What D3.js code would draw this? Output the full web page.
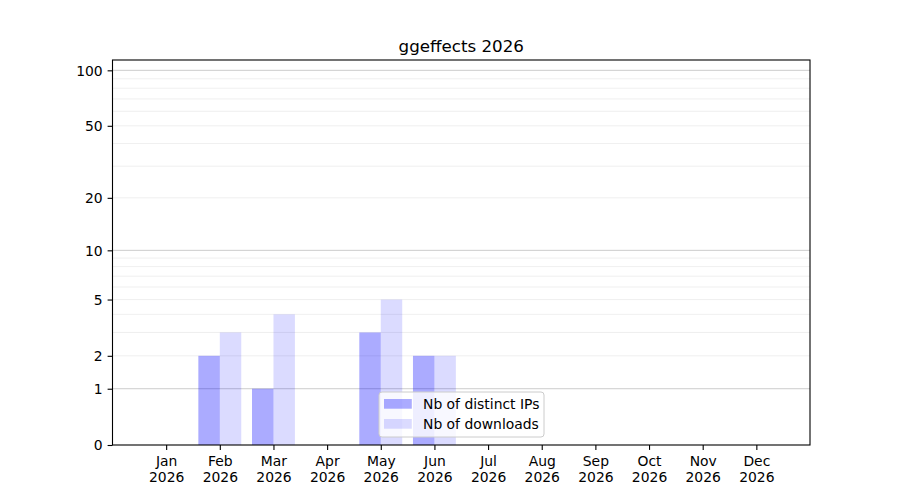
<!DOCTYPE html>
<html>
<head>
  <meta charset="utf-8">
  <title>ggeffects 2026</title>
  <style>
    body { margin: 0; background: #fff; }
    svg text { font-family: "DejaVu Sans", sans-serif; fill: #000; }
    .tick line { stroke: #000; stroke-width: 1.1; }
    .domain { display: none; }
  </style>
</head>
<body>
  <script src="https://d3js.org/d3.v7.min.js"></script>
  <script>
    // data
    var months = ["Jan", "Feb", "Mar", "Apr", "May", "Jun", "Jul", "Aug", "Sep", "Oct", "Nov", "Dec"];
    var year = "2026";
    var distinctIPs = [0, 2, 1, 0, 3, 2, 0, 0, 0, 0, 0, 0];
    var downloads = [0, 3, 4, 0, 5, 2, 0, 0, 0, 0, 0, 0];
    var yTicks = [0, 1, 2, 5, 10, 20, 50, 100];
    var majorGrid = [1, 10, 100];
    var minorGrid = [2, 3, 4, 5, 6, 7, 8, 9, 20, 30, 40, 50, 60, 70, 80, 90];
    var seriesNames = ["Nb of distinct IPs", "Nb of downloads"];

    var W = 900, H = 500;
    // plot box (named so it doesn't clash with window.top)
    var pLeft = 112.5, pRight = 810, pTop = 60, pBottom = 445;

    var svg = d3.select("body").append("svg")
        .attr("width", W)
        .attr("height", H);

    var x = d3.scaleLinear().domain([-1, 12]).range([pLeft, pRight]);
    // log(1 + y) scale, same as matplotlib's look here
    var y = d3.scaleSymlog().constant(1).domain([0, 113.7]).range([pBottom, pTop]);

    // grid
    svg.append("g").selectAll("line")
        .data(minorGrid)
        .enter().append("line")
        .attr("x1", pLeft).attr("x2", pRight)
        .attr("y1", d => y(d)).attr("y2", d => y(d))
        .style("stroke", "#ebebeb")
        .style("stroke-width", 0.8);

    svg.append("g").selectAll("line")
        .data(majorGrid)
        .enter().append("line")
        .attr("x1", pLeft).attr("x2", pRight)
        .attr("y1", d => y(d)).attr("y2", d => y(d))
        .style("stroke", "#cccccc")
        .style("stroke-width", 1);

    var bw = 0.4;
    var ix = d3.range(months.length);

    // bars
    svg.append("g").selectAll("rect")
        .data(ix)
        .enter().append("rect")
        .attr("x", i => x(i - bw))
        .attr("width", i => x(i) - x(i - bw))
        .attr("y", i => y(distinctIPs[i]))
        .attr("height", i => pBottom - y(distinctIPs[i]))
        .style("fill", "blue")
        .style("fill-opacity", 0.33);

    svg.append("g").selectAll("rect")
        .data(ix)
        .enter().append("rect")
        .attr("x", i => x(i))
        .attr("width", i => x(i + bw) - x(i))
        .attr("y", i => y(downloads[i]))
        .attr("height", i => pBottom - y(downloads[i]))
        .style("fill", "blue")
        .style("fill-opacity", 0.14);

    // axes
    var xAxis = svg.append("g")
        .attr("transform", "translate(0," + pBottom + ")")
        .call(d3.axisBottom(x).tickValues(ix).tickSize(4.9).tickPadding(4.9).tickFormat(""));

    xAxis.selectAll(".tick text").remove();
    xAxis.selectAll(".tick").append("text")
        .attr("text-anchor", "middle")
        .style("font-size", "13.9px")
        .selectAll("tspan")
        .data(i => [months[i], year])
        .enter().append("tspan")
        .attr("x", 0)
        .attr("y", (d, k) => 21 + k * 16)
        .text(d => d);

    var yAxis = svg.append("g")
        .attr("transform", "translate(" + pLeft + ",0)")
        .call(d3.axisLeft(y).tickValues(yTicks).tickSize(4.9).tickPadding(4.9).tickFormat(d3.format("d")));
    yAxis.selectAll("text").style("font-size", "13.9px").attr("dy", "0.35em");

    // frame
    svg.append("rect")
        .attr("x", pLeft).attr("y", pTop)
        .attr("width", pRight - pLeft).attr("height", pBottom - pTop)
        .style("fill", "none")
        .style("stroke", "#000")
        .style("stroke-width", 1.1);

    // title
    svg.append("text")
        .attr("x", (pLeft + pRight) / 2)
        .attr("y", 52)
        .attr("text-anchor", "middle")
        .style("font-size", "16.7px")
        .text("ggeffects 2026");

    // legend, lower center
    var lg = svg.append("g").attr("transform", "translate(379,392)");
    lg.append("rect")
        .attr("width", 165).attr("height", 45)
        .attr("rx", 3)
        .style("fill", "#fff")
        .style("fill-opacity", 0.8)
        .style("stroke", "#cccccc")
        .style("stroke-width", 1);

    var items = lg.selectAll(".item")
        .data(seriesNames)
        .enter().append("g")
        .attr("class", "item")
        .attr("transform", (d, i) => "translate(5," + (7 + i * 20) + ")");

    items.append("rect")
        .attr("width", 27.8).attr("height", 9.7)
        .style("fill", "blue")
        .style("fill-opacity", (d, i) => i === 0 ? 0.33 : 0.14);

    items.append("text")
        .attr("x", 39)
        .attr("y", 5)
        .attr("dy", "0.35em")
        .style("font-size", "13.9px")
        .text(d => d);
  </script>
</body>
</html>
